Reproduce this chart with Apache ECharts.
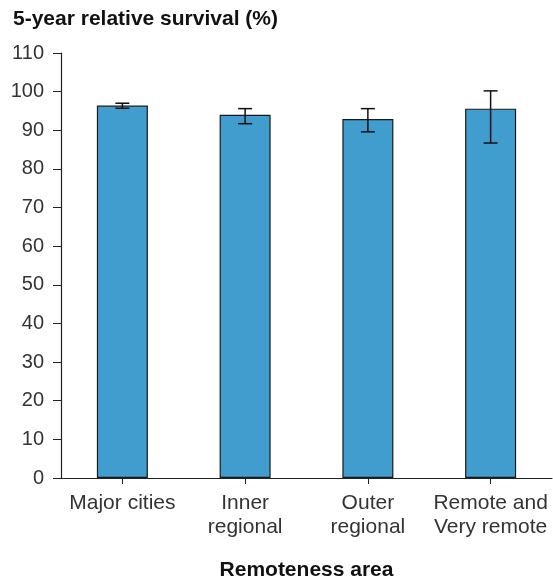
<!DOCTYPE html>
<html>
<head>
<meta charset="utf-8">
<script src="https://cdn.jsdelivr.net/npm/echarts@6/dist/echarts.min.js"></script>
<style>
html,body{margin:0;padding:0;background:#fff;}
#chart{width:553px;height:588px;}
</style>
</head>
<body>
<div id="chart"></div>
<script>
const categories = ['Major cities', 'Inner\nregional', 'Outer\nregional', 'Remote and\nVery remote'];
const survival = [96.4, 94.0, 92.9, 95.6];
const ciLower = [95.7, 91.7, 89.6, 86.7];
const ciUpper = [97.0, 95.6, 95.6, 100.2];
const yTicks = {min: 0, max: 110, interval: 10};

const FONT = '"Liberation Sans", Arial, sans-serif';
const chart = echarts.init(document.getElementById('chart'));
const errData = categories.map((c, i) => [i, ciLower[i], ciUpper[i]]);

chart.setOption({
  animation: false,
  title: {
    text: '5-year relative survival (%)',
    left: 8, top: 4,
    textStyle: {fontFamily: FONT, fontSize: 21, fontWeight: 'bold', color: '#111'}
  },
  grid: {left: 61, right: 1, top: 53, bottom: 110, containLabel: false},
  xAxis: {
    type: 'category',
    data: categories,
    name: 'Remoteness area',
    nameLocation: 'middle',
    nameGap: 82,
    nameTextStyle: {fontFamily: FONT, fontSize: 21, fontWeight: 'bold', color: '#111'},
    axisLine: {lineStyle: {color: '#222', width: 1.2}},
    axisTick: {show: true, alignWithLabel: true, length: 6, lineStyle: {color: '#222'}},
    axisLabel: {interval: 0, margin: 13, fontFamily: FONT, fontSize: 21, color: '#333', lineHeight: 24}
  },
  yAxis: {
    type: 'value',
    min: yTicks.min, max: yTicks.max, interval: yTicks.interval,
    splitLine: {show: false},
    axisLine: {show: true, lineStyle: {color: '#222', width: 1.2}},
    axisTick: {show: true, length: 8, lineStyle: {color: '#222'}},
    axisLabel: {margin: 17, fontFamily: FONT, fontSize: 20, color: '#333'}
  },
  series: [
    {
      type: 'bar',
      data: survival,
      barWidth: 51,
      itemStyle: {color: '#419DCD', borderColor: '#1a1a1a', borderWidth: 1.2}
    },
    {
      type: 'custom',
      data: errData,
      z: 10,
      renderItem: function (params, api) {
        const x = api.value(0);
        const lo = api.coord([x, api.value(1)]);
        const hi = api.coord([x, api.value(2)]);
        const hw = 7;
        const style = {stroke: '#111', lineWidth: 1.5};
        return {
          type: 'group',
          children: [
            {type: 'line', shape: {x1: lo[0], y1: lo[1], x2: hi[0], y2: hi[1]}, style: style},
            {type: 'line', shape: {x1: lo[0] - hw, y1: lo[1], x2: lo[0] + hw, y2: lo[1]}, style: style},
            {type: 'line', shape: {x1: hi[0] - hw, y1: hi[1], x2: hi[0] + hw, y2: hi[1]}, style: style}
          ]
        };
      }
    }
  ]
});
</script>
</body>
</html>
